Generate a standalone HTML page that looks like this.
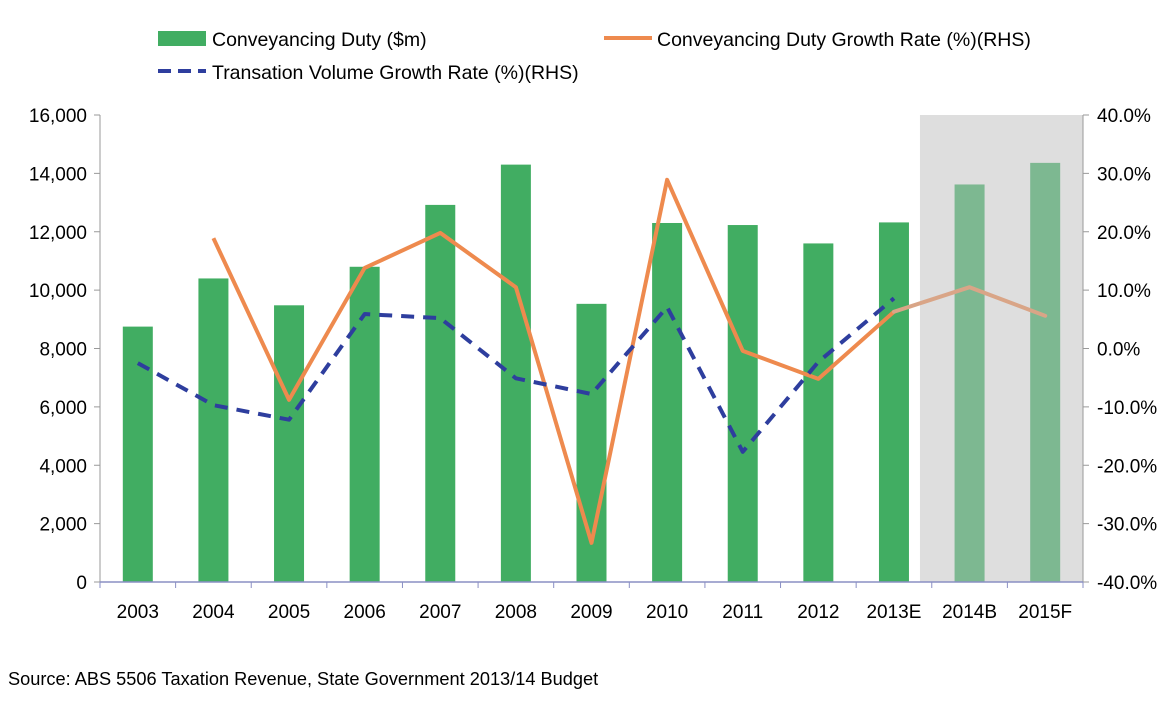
<!DOCTYPE html>
<html><head><meta charset="utf-8"><style>
body{margin:0;background:#fff;}
svg text{font-family:"Liberation Sans",Arial,sans-serif;fill:#000;}
</style></head><body>
<svg id="chart" width="1174" height="702" xmlns="http://www.w3.org/2000/svg">
<g id="legend">
 <g><rect x="158" y="31" width="48" height="15" fill="#41ad62"/><text x="212" y="46" font-size="19.5">Conveyancing Duty ($m)</text></g>
 <g><line x1="604" y1="38" x2="652" y2="38" stroke="#ee8a4e" stroke-width="4"/><text x="657" y="46" font-size="19.5">Conveyancing Duty Growth Rate (%)(RHS)</text></g>
 <g><line x1="158" y1="71" x2="206" y2="71" stroke="#2e3e9e" stroke-width="4" stroke-dasharray="13,7"/><text x="212" y="79" font-size="19.5">Transation Volume Growth Rate (%)(RHS)</text></g>
</g>
<g id="plot"></g>
<text x="8" y="685" font-size="18.2">Source: ABS 5506 Taxation Revenue, State Government 2013/14 Budget</text>
</svg>
<script>
const categories=["2003","2004","2005","2006","2007","2008","2009","2010","2011","2012","2013E","2014B","2015F"];
const dutyValues=[8750,10400,9480,10800,12920,14300,9530,12300,12230,11600,12320,13620,14360];
const dutyGrowth=[null,18.9,-8.8,13.8,19.8,10.5,-33.3,28.9,-0.4,-5.2,6.3,10.5,5.6];
const volumeGrowth=[-2.5,-9.7,-12.2,5.9,5.2,-5.1,-7.8,7.1,-17.7,-2.3,8.6,null,null];
const leftTicks=[0,2000,4000,6000,8000,10000,12000,14000,16000];
const rightTicks=[-40,-30,-20,-10,0,10,20,30,40];
const forecastStart=11;

const NS="http://www.w3.org/2000/svg";
const g=document.getElementById('plot');
const X0=100,X1=1083,Y0=582,Y1=115;
const step=(X1-X0)/categories.length;
const xc=i=>X0+step*(i+0.5);
const yL=v=>Y0-(v-0)/(16000)*(Y0-Y1);
const yR=v=>Y0-(v+40)/80*(Y0-Y1);
function mk(t,a){const e=document.createElementNS(NS,t);for(const k in a)e.setAttribute(k,a[k]);g.appendChild(e);return e;}

const bandX=xc(forecastStart-1)+26;
let band=mk('rect',{x:bandX,y:Y1,width:X1-bandX,height:Y0-Y1,fill:'#dedede'});



dutyValues.forEach((v,i)=>{
 const r=mk('rect',{x:xc(i)-15,y:yL(v),width:30,height:Y0-yL(v),fill:i>=forecastStart?'#7db891':'#41ad62'});
 
 
});

let la=mk('line',{x1:X0,y1:Y1,x2:X0,y2:Y0,stroke:'#999','stroke-width':1});


let ra=mk('line',{x1:X1,y1:Y1,x2:X1,y2:Y0,stroke:'#999','stroke-width':1});


let ba=mk('line',{x1:X0,y1:Y0,x2:X1,y2:Y0,stroke:'#8a8fc4','stroke-width':1.5});


leftTicks.forEach(v=>{
 mk('line',{x1:X0-6,y1:yL(v),x2:X0,y2:yL(v),stroke:'#999'});
 const t=mk('text',{x:X0-13,y:yL(v)+7,'font-size':19,'text-anchor':'end'});
 t.textContent=v.toLocaleString('en-US');
 
 
});
rightTicks.forEach(v=>{
 mk('line',{x1:X1,y1:yR(v),x2:X1+6,y2:yR(v),stroke:'#999'});
 const t=mk('text',{x:X1+14,y:yR(v)+7,'font-size':19});
 t.textContent=v.toFixed(1)+'%';
 
 
});
categories.forEach((c,i)=>{
 mk('line',{x1:X0+step*i,y1:Y0,x2:X0+step*i,y2:Y0+6,stroke:'#8a8fc4'});
 const t=mk('text',{x:xc(i),y:Y0+36,'font-size':19,'text-anchor':'middle'});
 t.textContent=c;
 
 
});
mk('line',{x1:X1,y1:Y0,x2:X1,y2:Y0+6,stroke:'#8a8fc4'});

function pts(arr,from,to){const p=[];for(let i=from;i<=to;i++)if(arr[i]!=null)p.push(xc(i)+','+yR(arr[i]));return p.join(' ');}
let first=dutyGrowth.findIndex(v=>v!=null);
let l1=mk('polyline',{points:pts(dutyGrowth,first,forecastStart-1),fill:'none',stroke:'#ee8a4e','stroke-width':4,'stroke-linejoin':'round'});


let l2=mk('polyline',{points:pts(dutyGrowth,forecastStart-1,categories.length-1),fill:'none',stroke:'#d9a587','stroke-width':4,'stroke-linejoin':'round','stroke-linecap':'round'});


let l3=mk('polyline',{points:pts(volumeGrowth,0,categories.length-1),fill:'none',stroke:'#2e3e9e','stroke-width':4,'stroke-dasharray':'13,9','stroke-linejoin':'round'});


</script>
</body></html>
